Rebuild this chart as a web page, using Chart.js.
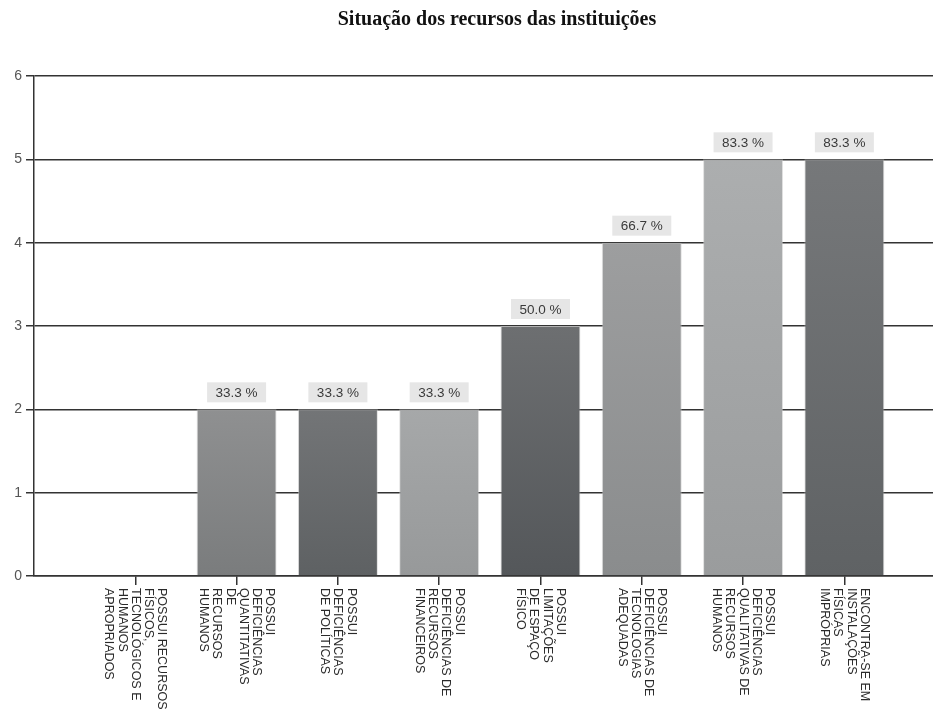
<!DOCTYPE html>
<html>
<head>
<meta charset="utf-8">
<script src="https://cdn.jsdelivr.net/npm/chart.js@4.4.1/dist/chart.umd.min.js"></script>
<style>
  html, body { margin: 0; padding: 0; background: #fff; }
  #wrap { width: 933px; height: 712px; position: relative; }
</style>
</head>
<body>
<div id="wrap"><canvas id="chart"></canvas></div>
<script>
'use strict';

/* ---- data ---- */
const chartTitle = 'Situação dos recursos das instituições';
const categories = [
    ['POSSUI RECURSOS', 'FÍSICOS,', 'TECNOLÓGICOS E', 'HUMANOS', 'APROPRIADOS'],
    ['POSSUI', 'DEFICIÊNCIAS', 'QUANTITATIVAS', 'DE', 'RECURSOS', 'HUMANOS'],
    ['POSSUI', 'DEFICIÊNCIAS', 'DE POLÍTICAS'],
    ['POSSUI', 'DEFICIÊNCIAS DE', 'RECURSOS', 'FINANCEIROS'],
    ['POSSUI', 'LIMITAÇÕES', 'DE ESPAÇO', 'FÍSICO'],
    ['POSSUI', 'DEFICIÊNCIAS DE', 'TECNOLOGIAS', 'ADEQUADAS'],
    ['POSSUI', 'DEFICIÊNCIAS', 'QUALITATIVAS DE', 'RECURSOS', 'HUMANOS'],
    ['ENCONTRA-SE EM', 'INSTALAÇÕES', 'FÍSICAS', 'IMPRÓPRIAS']
];
const counts = [0, 2, 2, 2, 3, 4, 5, 5];
const percentLabels = ['', '33.3 %', '33.3 %', '33.3 %', '50.0 %', '66.7 %', '83.3 %', '83.3 %'];
const yTicks = [0, 1, 2, 3, 4, 5, 6];

/* bar shades: top / bottom of the gradient */
const barTop    = ['#909192', '#8f9091', '#737577', '#a6a8a9', '#6d6f71', '#9d9e9f', '#acaeaf', '#76787a'];
const barBottom = ['#7a7c7d', '#7a7c7d', '#5e6163', '#97999a', '#54575a', '#8a8c8d', '#9a9c9d', '#5f6264'];

const AXIS = '#333333';
const FONT = "'Liberation Sans', Arial, sans-serif";

function barColor(ctx) {
    const chart = ctx.chart;
    const y = chart.scales.y;
    if (!y || !chart.chartArea) return barTop[ctx.dataIndex];
    const top = y.getPixelForValue(counts[ctx.dataIndex]);
    const bottom = y.getPixelForValue(0);
    if (bottom - top < 1) return barTop[ctx.dataIndex];
    const g = chart.ctx.createLinearGradient(0, top, 0, bottom);
    g.addColorStop(0, barTop[ctx.dataIndex]);
    g.addColorStop(1, barBottom[ctx.dataIndex]);
    return g;
}

/* title + rotated category labels + value boxes */
const decorations = {
    id: 'decorations',
    afterDatasetsDraw(chart) {
        const ctx = chart.ctx;
        const meta = chart.getDatasetMeta(0);
        ctx.save();
        ctx.font = '13.5px ' + FONT;
        ctx.textAlign = 'center';
        ctx.textBaseline = 'middle';
        meta.data.forEach((bar, i) => {
            const txt = percentLabels[i];
            if (!txt) return;
            const w = 59, h = 20;
            const bx = bar.x - w / 2, by = bar.y - 7 - h;
            ctx.fillStyle = '#e6e6e6';
            ctx.fillRect(bx, by, w, h);
            ctx.fillStyle = '#3a3a3a';
            ctx.fillText(txt, bar.x, by + h / 2 + 1);
        });
        ctx.restore();
    },
    afterDraw(chart) {
        const ctx = chart.ctx;
        const x = chart.scales.x;
        ctx.save();
        // title
        ctx.font = "bold 20px 'Liberation Serif', 'Times New Roman', serif";
        ctx.fillStyle = '#111';
        ctx.textAlign = 'center';
        ctx.textBaseline = 'middle';
        ctx.fillText(chartTitle, 497, 20);
        // category labels, rotated clockwise, first line on the right
        ctx.font = '12.5px ' + FONT;
        ctx.fillStyle = '#2a2a2a';
        ctx.textAlign = 'left';
        const lh = 13.2;
        categories.forEach((lines, i) => {
            const px = x.getPixelForValue(i);
            const blockW = lh * lines.length;
            ctx.save();
            ctx.translate(px + blockW / 2, chart.chartArea.bottom + 12);
            ctx.rotate(Math.PI / 2);
            lines.forEach((ln, j) => {
                ctx.fillText(ln, 0, lh * j + lh / 2);
            });
            ctx.restore();
        });
        ctx.restore();
    }
};

const ctx = document.getElementById('chart').getContext('2d');
new Chart(ctx, {
    type: 'bar',
    data: {
        datasets: [{
            data: counts.map((v, i) => ({ x: i, y: v })),
            backgroundColor: barColor,
            borderColor: 'rgba(200,200,200,0.55)',
            borderWidth: 1,
            categoryPercentage: 1,
            barPercentage: 0.79
        }]
    },
    options: {
        responsive: true,
        maintainAspectRatio: false,
        animation: false,
        layout: { padding: { top: 76, right: 0, left: 0, bottom: 0 } },
        plugins: {
            legend: { display: false },
            title: { display: false },
            tooltip: { enabled: false }
        },
        scales: {
            x: {
                type: 'linear',
                offset: false,
                min: -1,
                max: 7.875,
                afterBuildTicks: s => { s.ticks = categories.map((_, i) => ({ value: i })); },
                afterFit: s => { s.height = 136; },
                ticks: { display: false },
                grid: { display: true, offset: false, drawOnChartArea: false, drawTicks: true, tickLength: 9, color: AXIS, lineWidth: 1.5 },
                border: { display: true, color: AXIS, width: 1.5 }
            },
            y: {
                min: 0,
                max: 6,
                afterBuildTicks: s => { s.ticks = yTicks.map(v => ({ value: v })); },
                afterFit: s => { s.width = 34; },
                ticks: { color: '#555', font: { family: FONT, size: 14 }, padding: 4 },
                grid: { color: AXIS, lineWidth: 1.5, tickLength: 8 },
                border: { display: true, color: AXIS, width: 1.5 }
            }
        }
    },
    plugins: [decorations]
});
</script>
</body>
</html>
